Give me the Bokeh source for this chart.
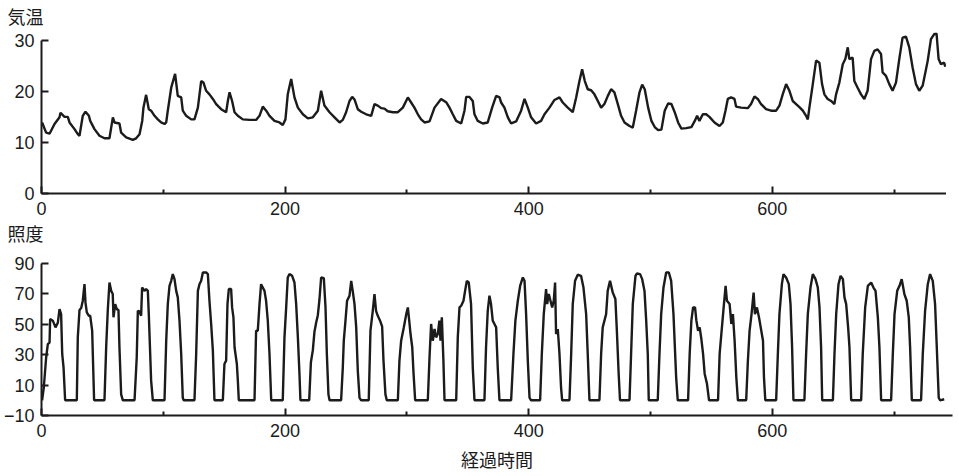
from bokeh.plotting import figure
from bokeh.layouts import column
from bokeh.models import FixedTicker, Range1d, Title
from bokeh.embed import file_html
from bokeh.resources import INLINE

# ---- data ----
temp_title = "気温"
lux_title = "照度"
x_title = "経過時間"

x_major_ticks = [0, 200, 400, 600]
x_minor_ticks = [100, 300, 500, 700]
temp_ticks = [0, 10, 20, 30]
lux_ticks = [-10, 10, 30, 50, 70, 90]

temp_hours = [
    0.5, 3.8, 6.6, 10.7, 14.8, 15.6, 18.9, 21.6, 23.0, 27.1, 29.8, 31.2, 33.9, 36.1, 38.9, 40.0,
    43.5, 47.6, 51.7, 55.8, 58.6, 59.9, 64.0, 65.4, 69.5, 75.0, 77.7, 80.5, 82.7, 83.7, 85.9, 88.1,
    90.0, 92.8, 95.5, 98.2, 101.0, 102.4, 103.7, 106.5, 109.7, 111.9, 114.7, 116.0, 118.8, 122.9,
    125.6, 128.4, 131.1, 133.0, 135.2, 137.9, 140.7, 143.4, 147.5, 151.6, 153.0, 154.4, 156.5,
    158.5, 161.2, 165.3, 170.8, 176.2, 179.0, 181.7, 184.5, 187.2, 191.3, 195.4, 198.1, 200.3,
    202.2, 205.0, 207.7, 210.5, 214.6, 218.7, 222.8, 226.9, 229.6, 232.3, 236.5,
    240.6, 244.7, 247.4, 250.1, 252.9, 255.1, 257.0, 259.7, 262.5, 266.6, 270.7, 273.4, 276.1,
    278.9, 281.6, 284.3, 288.5, 292.6, 296.7, 300.8, 303.5, 306.2, 309.0, 311.7, 314.5, 318.6,
    322.7, 328.1, 332.5, 335.0, 337.7, 340.5, 344.6, 347.3, 348.7, 351.4, 354.1, 355.5, 358.2,
    362.3, 366.4, 370.0, 373.3, 376.1, 377.4, 380.1, 382.9, 385.6, 389.7, 393.8, 396.6, 399.3,
    402.0, 406.1, 410.2, 413.0, 417.1, 421.2, 425.3, 428.0, 432.1, 436.2, 439.0, 441.7, 443.9,
    446.1, 448.5, 451.3, 454.0, 456.8, 459.5, 462.2, 465.0, 467.7, 470.4, 473.2, 475.9,
    478.7, 482.8, 485.5, 488.2, 491.0, 493.2, 495.3, 498.1, 500.8, 503.5, 506.3, 509.0, 511.7,
    514.5, 517.2, 519.9, 522.7, 525.4, 529.3, 533.6, 536.4, 538.3, 540.2, 543.0, 545.7, 548.4,
    552.6, 556.7, 559.4, 561.6, 563.5, 566.2, 569.0, 570.3, 574.4, 579.9, 582.6, 585.4, 588.1,
    590.8, 594.9, 599.0, 603.2, 605.9, 608.6, 611.4, 614.1, 616.8, 619.6, 622.3, 625.1, 627.8,
    629.2, 630.5, 633.3, 636.0, 638.7, 640.9, 642.8, 645.5, 648.3, 651.0, 652.4, 655.1, 657.9,
    660.0, 662.0, 663.3, 666.0, 667.4, 670.1, 672.9, 675.6, 678.3, 681.1, 683.8, 686.5, 689.3,
    690.6, 693.4, 696.1, 698.8, 701.6, 704.3, 707.0, 709.8, 712.5, 715.2, 718.0, 720.7, 723.5,
    727.6, 730.3, 733.0, 734.9, 736.6, 738.5, 741.2, 742.0,
]
temp_values = [
    13.9, 11.9, 11.7, 13.6, 14.9, 15.8, 15.0, 15.0, 13.9, 12.6, 11.6, 11.3, 15.2, 16.0, 15.2, 14.2,
    12.6, 11.3, 10.8, 10.8, 14.9, 13.9, 13.7, 11.9, 11.0, 10.5, 10.8, 11.6, 14.2, 16.8, 19.3, 16.5,
    16.2, 15.2, 14.5, 13.9, 13.6, 13.9, 16.2, 20.7, 23.4, 19.1, 18.8, 16.2, 15.2, 14.5,
    14.5, 16.8, 22.0, 21.7, 20.1, 19.4, 18.5, 17.5, 16.5, 15.9, 18.1, 19.8, 18.1,
    15.9, 15.2, 14.5, 14.4, 14.4, 15.2, 17.0, 16.2, 15.2, 14.2, 13.9, 13.4, 14.5,
    19.4, 22.4, 18.8, 16.8, 15.5, 14.7, 14.9, 16.2, 20.1, 17.2, 15.9,
    14.9, 13.9, 14.4, 15.9, 18.1, 18.9, 18.4, 16.5, 16.0, 15.5, 15.2, 17.5, 17.2,
    16.7, 16.6, 16.1, 15.9, 15.9, 16.8, 18.8, 17.8, 16.8, 15.5, 14.5, 13.9, 14.1,
    16.8, 18.5, 17.8, 16.8, 15.5, 14.2, 13.7, 16.2, 18.9, 18.9, 18.1, 15.5, 14.2,
    13.7, 13.9, 16.8, 19.1, 18.8, 17.8, 16.8, 14.9, 13.7, 14.1, 16.2, 18.5, 16.8,
    14.9, 13.7, 14.2, 15.5, 16.8, 18.3, 18.8, 17.8, 16.8, 15.9, 18.8, 22.0, 24.3,
    22.0, 20.4, 20.2, 19.4, 18.1, 16.8, 17.5, 19.1, 20.4, 19.8, 17.5, 15.2,
    13.9, 13.2, 12.9, 16.2, 19.8, 21.3, 20.4, 16.8, 14.2, 13.0, 12.4, 12.5, 16.2,
    17.6, 17.5, 15.9, 13.9, 12.7, 12.8, 13.0, 14.2, 15.2, 14.2, 15.5, 15.5, 15.0,
    13.9, 13.2, 13.9, 16.2, 18.5, 18.8, 18.5, 17.0, 16.8, 16.7, 17.5, 19.0, 18.5,
    17.5, 16.5, 16.2, 16.2, 17.2, 19.4, 21.4, 20.1, 18.1, 17.5, 16.9, 16.2, 15.2,
    14.5, 16.8, 21.4, 26.0, 25.6, 21.4, 19.4, 18.5, 18.1, 17.5, 19.4, 21.7, 25.3,
    26.3, 28.6, 26.3, 26.6, 22.0, 20.7, 19.4, 18.5, 20.1, 26.3, 27.9, 28.2, 27.3,
    23.7, 23.0, 21.4, 20.1, 21.7, 26.3, 30.5, 30.7, 28.6, 24.7, 21.4, 20.1, 21.1,
    25.9, 30.2, 31.2, 31.3, 26.3, 25.3, 25.6, 24.8,
]

lux_hours = [
    0.5, 1.9, 3.8, 5.2, 6.6, 7.1, 9.3, 11.5, 13.4, 14.8, 16.1, 17.0, 18.1, 19.4,
    29.0, 29.8, 31.2, 32.6, 33.9, 35.3, 36.1, 37.2, 38.9, 40.0, 41.6, 43.2,
    51.7, 53.1, 54.4, 55.8, 57.2, 58.5, 59.1, 60.5, 61.8, 63.2, 64.0, 65.4, 66.8,
    76.4, 78.2, 79.1, 80.4, 81.8, 82.6, 84.5, 85.9, 87.3, 88.1, 90.0, 91.4,
    101.0, 102.4, 103.7, 105.1, 106.5, 107.8, 109.2, 110.6, 111.9, 113.3, 114.7, 116.0, 116.8,
    125.6, 127.0, 128.4, 129.7, 131.1, 132.5, 135.2, 136.6, 137.9, 139.3, 140.7, 142.0,
    148.9, 150.2, 151.6, 152.7, 153.8, 155.7, 156.5, 157.6, 158.5, 160.4, 161.2, 162.0,
    174.9, 176.2, 177.6, 179.0, 180.3, 181.7, 183.1, 184.4, 185.8, 187.2, 188.6,
    198.1, 199.5, 200.9, 202.2, 203.6, 205.8, 207.7, 209.1, 210.5, 211.8, 212.6,
    219.8, 221.2, 222.8, 224.1, 225.5, 226.9, 228.2, 229.6, 231.8, 233.2, 234.3, 235.6, 236.5,
    246.0, 247.4, 248.2, 249.6, 250.9, 252.9, 254.3, 255.7, 257.0, 258.4, 259.7, 261.1, 262.5,
    268.7, 270.1, 272.0, 273.4, 274.7, 276.1, 278.0, 279.7, 280.8, 282.4, 283.5,
    292.6, 293.9, 295.3, 297.5, 299.5, 300.8, 302.2, 303.0, 304.4, 305.5, 306.8,
    317.2, 318.6, 319.9, 321.3, 322.7, 324.0, 325.4, 326.7, 327.6, 328.7, 330.0, 330.9,
    340.5, 341.8, 343.2, 344.6, 346.5, 347.8, 349.2, 350.8, 352.7, 354.1, 355.5,
    363.7, 365.0, 366.4, 367.8, 369.1, 370.5, 371.9, 373.3, 374.6, 376.0,
    385.6, 387.5, 389.1, 391.1, 393.0, 395.2, 396.6, 397.9, 399.3, 400.7, 402.0,
    409.4, 410.8, 412.4, 414.3, 415.2, 416.5, 417.9, 419.3, 420.6, 421.7, 422.5, 423.9, 425.3, 426.6, 427.5,
    433.5, 434.9, 436.2, 438.1, 440.3, 443.0, 445.0, 447.2, 448.5, 449.9,
    458.1, 459.5, 460.8, 463.6, 464.9, 466.8, 469.0, 471.2, 472.3, 473.9, 475.0,
    482.8, 484.1, 485.5, 487.7, 488.8, 491.5, 493.2, 495.1, 496.5, 497.8, 498.6,
    506.0, 507.4, 508.8, 510.7, 512.9, 515.1, 517.0, 518.9, 521.1, 522.4,
    530.9, 532.2, 533.6, 535.0, 536.6, 537.7, 539.1, 540.4, 541.8, 543.2, 544.5, 546.4, 548.1,
    555.5, 556.8, 558.2, 560.1, 561.7, 562.8, 565.0, 566.4, 567.7, 569.1, 570.5, 571.8,
    578.6, 580.0, 581.4, 583.0, 584.7, 585.8, 587.4, 589.1, 591.0, 592.4, 593.2, 594.3,
    603.2, 604.6, 605.9, 607.9, 609.2, 611.4, 613.6, 615.0, 616.3, 617.4,
    626.4, 627.8, 629.2, 631.4, 633.3, 635.5, 637.4, 638.8, 640.1, 641.0,
    649.8, 651.1, 652.5, 654.4, 656.1, 658.0, 659.3, 660.7, 662.3, 663.4, 664.8,
    673.0, 674.3, 676.3, 678.5, 681.2, 683.1, 684.8, 686.7, 688.0, 689.4,
    697.6, 699.0, 700.4, 702.6, 704.5, 706.3, 708.5, 710.4, 712.1, 713.2, 714.6,
    722.2, 723.6, 725.5, 727.7, 729.6, 731.8, 733.7, 735.1, 736.7, 737.8, 741.2,
]
lux_values = [
    0, 8.6, 28, 37, 38, 53.5, 52.4, 48, 51, 60, 56.7, 30.5, 21.7, 0,
    0, 41.4, 59.4, 60.7, 65.5, 76.4, 64.4, 57.8, 55.6, 55.6, 45.8, 0,
    0, 34.9, 58.9, 77.5, 72, 69.9, 54.6, 63.3, 60, 59.4, 34.9, 3.9, 0,
    0, 28.3, 58.9, 58.5, 55.6, 74.2, 72, 73.2, 72, 56.7, 13.1, 0,
    0, 39.2, 63.3, 75.3, 78.6, 83, 79.7, 72, 67.7, 52.4, 30.5, 1.7, 0,
    0, 30.5, 72, 76.4, 78.6, 84.1, 84.1, 83, 65.5, 50.2, 32.7, 0,
    0, 23.9, 26.1, 63.3, 73.2, 73.2, 61.1, 54.6, 34.9, 23.9, 13.1, 0,
    0, 45.8, 45.8, 63.3, 76.4, 74.2, 72, 65.5, 52.4, 30.5, 0,
    0, 41.4, 61.1, 80.8, 83, 81.9, 77.5, 63.3, 41.4, 17.5, 0,
    0, 25, 33, 45, 51, 56, 66, 80.8, 80.4, 61.1, 30.5, 3.9, 0,
    0, 21.7, 39.2, 52.4, 65.5, 68.8, 78.6, 71, 63.3, 48, 19.5, 1.7, 0,
    0, 45.8, 58.9, 69.9, 58.9, 55.6, 52.4, 48.4, 26.1, 3.9, 0,
    0, 26.1, 39.2, 48, 56.7, 61.1, 50.2, 43.6, 34.9, 17.4, 0,
    0, 28.3, 50.2, 39.2, 46.9, 41.4, 43.6, 52.4, 39.2, 54.6, 26.1, 0,
    0, 41.4, 61.1, 62.2, 65.5, 72, 78.6, 77.5, 63.3, 21.7, 0,
    0, 34.9, 58.9, 68.8, 63.3, 52.4, 50.2, 48, 21.7, 0,
    0, 30.5, 52.4, 65.5, 75.3, 80.8, 78.6, 56.7, 26.1, 1.7, 0,
    0, 30.5, 56.7, 73.2, 63.3, 69.9, 65.5, 61.1, 65.5, 77.5, 43.6, 46.9, 30.5, 8.3, 0,
    0, 30.5, 63.3, 78.6, 82.6, 81.9, 74.2, 56.7, 30.5, 0,
    0, 30.5, 48, 56.7, 72, 78.6, 71, 66.6, 48, 17.5, 0,
    0, 30.5, 63.3, 81.9, 83.4, 83, 79.7, 72, 52.4, 30.5, 0,
    0, 30.5, 56.7, 74.2, 84.1, 84.1, 78.6, 56.7, 15.1, 0,
    0, 30.5, 52.4, 61.1, 61.1, 52.4, 45.8, 48, 40.3, 30.5, 17.5, 10.9, 0,
    0, 30.5, 43.6, 61.1, 75.3, 65.5, 63.3, 50.2, 56.7, 39.2, 15.1, 0,
    0, 26.1, 45.8, 56.7, 70.9, 56.7, 61.1, 54.6, 45.8, 39.2, 15.1, 0,
    0, 30.5, 56.7, 76.4, 83, 80.8, 76.4, 63.3, 34.9, 0,
    0, 30.5, 56.7, 74.2, 83, 79.7, 74.2, 61.1, 34.9, 0,
    0, 30.5, 56.7, 76.4, 81.9, 79.7, 67.7, 63.3, 48, 34.9, 0,
    0, 30.5, 61.1, 75.3, 77.5, 74.2, 72, 54.6, 34.9, 0,
    0, 30.5, 56.7, 72, 75.3, 79.7, 69.9, 65.5, 54.6, 34.9, 0,
    0, 30.5, 58.9, 76.4, 83, 78.6, 63.3, 34.9, 1.7, 0, 0.7,
]

INK = "#1b1b1b"
FONT = "Liberation Sans"
JFONT = "Noto Sans CJK JP"
X_END = 748


def style_title(t, standoff):
    t.align = "left"
    t.offset = -34
    t.standoff = standoff
    t.vertical_align = "top"
    t.text_font = JFONT
    t.text_font_size = "18px"
    t.text_font_style = "normal"
    t.text_color = INK


def style(p, y_ticks, y_bounds):
    p.outline_line_color = None
    p.xgrid.grid_line_color = None
    p.ygrid.grid_line_color = None
    p.background_fill_color = "white"
    p.border_fill_color = "white"
    for ax in (p.xaxis[0], p.yaxis[0]):
        ax.axis_line_width = 2
        ax.axis_line_color = INK
        ax.major_tick_in = 7
        ax.major_tick_out = 0
        ax.minor_tick_in = 4
        ax.minor_tick_out = 0
        ax.major_tick_line_width = 2
        ax.minor_tick_line_width = 2
        ax.major_tick_line_color = INK
        ax.minor_tick_line_color = INK
        ax.major_label_text_font = FONT
        ax.major_label_text_font_size = "18px"
        ax.major_label_text_color = INK
    p.xaxis[0].ticker = FixedTicker(ticks=x_major_ticks, minor_ticks=x_minor_ticks)
    p.xaxis[0].bounds = (0, X_END)
    p.xaxis[0].major_label_standoff = 8
    p.yaxis[0].ticker = FixedTicker(ticks=y_ticks)
    p.yaxis[0].minor_tick_line_color = None
    p.yaxis[0].bounds = y_bounds
    p.yaxis[0].major_label_standoff = 7


# ---- top panel: temperature ----
p1 = figure(frame_width=911, frame_height=161, x_range=Range1d(0, X_END), y_range=Range1d(0, 31.5),
            output_backend="svg", toolbar_location=None,
            min_border_left=34, min_border_right=1, min_border_top=32, min_border_bottom=62)
style(p1, temp_ticks, (0, 30))
p1.title.text = temp_title
style_title(p1.title, 4)
p1.line(temp_hours, temp_values, line_color=INK, line_width=2.4)

# heading of the lower panel, placed directly under the upper panel's axis
lux_heading = Title(text=lux_title)
style_title(lux_heading, 5)
p1.add_layout(lux_heading, "below")

# ---- bottom panel: illuminance ----
p2 = figure(frame_width=911, frame_height=152, x_range=Range1d(0, X_END), y_range=Range1d(-10, 90),
            output_backend="svg", toolbar_location=None,
            min_border_left=34, min_border_right=1, min_border_top=8, min_border_bottom=59)
style(p2, lux_ticks, (-10, 90))
p2.line(lux_hours, lux_values, line_color=INK, line_width=2.4)
p2.xaxis[0].axis_label = x_title
p2.xaxis[0].axis_label_text_font = JFONT
p2.xaxis[0].axis_label_text_font_size = "18px"
p2.xaxis[0].axis_label_text_font_style = "normal"
p2.xaxis[0].axis_label_text_color = INK
p2.xaxis[0].axis_label_standoff = 6

layout = column(p1, p2, spacing=0)
open("out.html", "w").write(file_html(layout, INLINE))
